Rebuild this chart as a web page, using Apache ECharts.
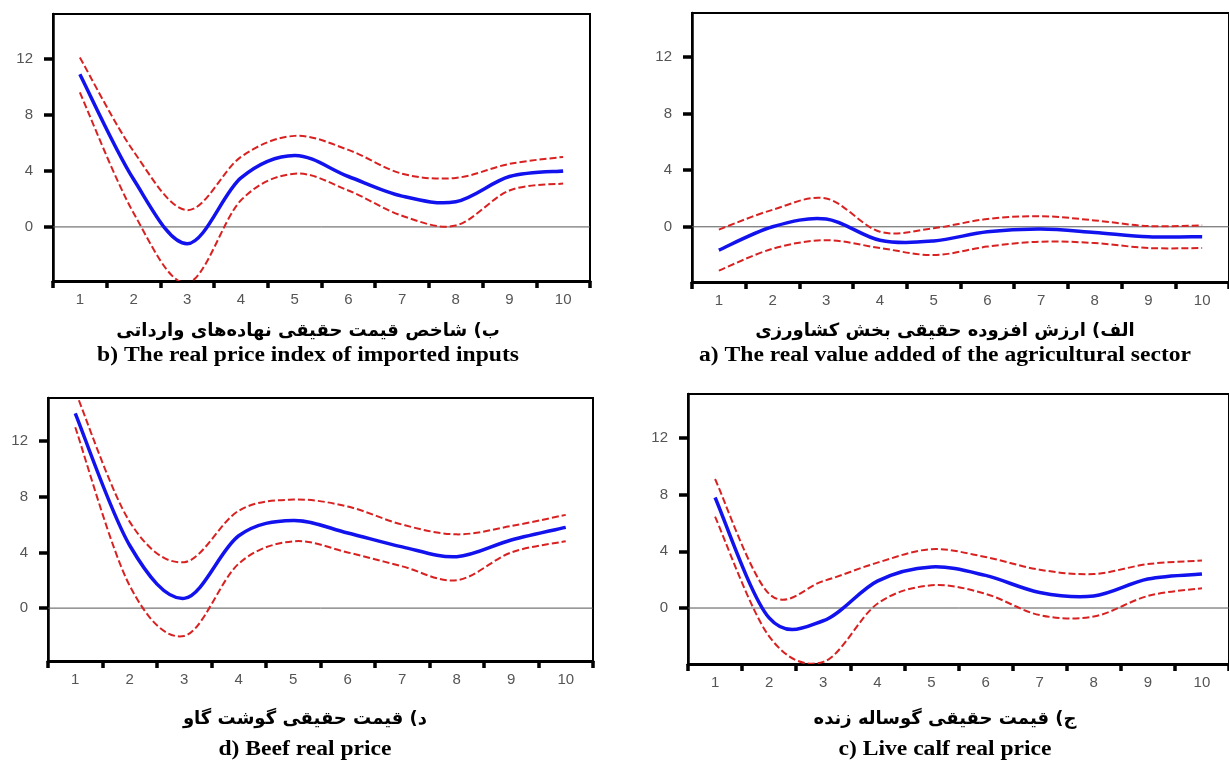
<!DOCTYPE html>
<html>
<head>
<meta charset="utf-8">
<script src="https://cdn.jsdelivr.net/npm/echarts@6/dist/echarts.min.js"></script>
<style>
html,body{margin:0;padding:0;background:#fff;}
#chart{width:1229px;height:765px;}
</style>
</head>
<body>
<div id="chart"></div>
<script>
// ---- data ----
const categories = ['1','2','3','4','5','6','7','8','9','10'];
const yTickValues = [0, 4, 8, 12];

// a) real value added of the agricultural sector
const aResp  = [-1.65, 0.0, 0.55, -0.95, -1.0, -0.35, -0.15, -0.4, -0.7, -0.7];
const aUpper = [-0.2, 1.2, 2.0, -0.35, -0.1, 0.55, 0.75, 0.45, 0.05, 0.1];
const aLower = [-3.1, -1.55, -0.95, -1.5, -2.0, -1.4, -1.05, -1.15, -1.5, -1.5];

// b) real price index of imported inputs
const bResp  = [10.9, 3.4, -1.2, 3.5, 5.1, 3.6, 2.2, 1.8, 3.6, 4.0];
const bUpper = [12.1, 5.4, 1.2, 5.0, 6.5, 5.5, 3.8, 3.5, 4.5, 5.0];
const bLower = [9.6, 1.0, -4.0, 1.9, 3.8, 2.6, 0.8, 0.1, 2.6, 3.1];

// c) live calf real price
const cResp  = [7.8, -0.7, -0.9, 1.9, 2.9, 2.3, 1.1, 0.85, 2.05, 2.4];
const cUpper = [9.1, 1.0, 1.9, 3.2, 4.15, 3.6, 2.7, 2.4, 3.1, 3.35];
const cLower = [6.45, -2.0, -3.8, 0.3, 1.6, 1.0, -0.5, -0.6, 0.85, 1.4];

// d) beef real price
const dResp  = [14.0, 4.5, 0.7, 5.2, 6.3, 5.4, 4.4, 3.7, 4.9, 5.8];
const dUpper = [15.6, 6.2, 3.3, 7.0, 7.8, 7.3, 6.0, 5.3, 5.9, 6.7];
const dLower = [13.0, 1.6, -2.0, 3.2, 4.8, 4.0, 3.0, 2.0, 4.0, 4.8];

const titlesFa = [
  'الف) ارزش افزوده حقیقی بخش کشاورزی',
  'ب) شاخص قیمت حقیقی نهاده‌های وارداتی',
  'ج) قیمت حقیقی گوساله زنده',
  'د) قیمت حقیقی گوشت گاو'
];
const titlesEn = [
  'a) The real value added of the agricultural sector',
  'b) The real price index of imported inputs',
  'c) Live calf real price',
  'd) Beef real price'
];

// ---- layout ----
const panels = [
  {resp: aResp, up: aUpper, lo: aLower, grid: {left: 692, top: 13, right: -3, bottom: 483}, min: -3.9, max: 15.1, tx: 945, tyFa: 331, tyEn: 356},
  {resp: bResp, up: bUpper, lo: bLower, grid: {left: 53, top: 14, right: 639, bottom: 484}, min: -3.86, max: 15.2, tx: 308, tyFa: 331, tyEn: 356},
  {resp: cResp, up: cUpper, lo: cLower, grid: {left: 688, top: 394, right: -4, bottom: 101}, min: -3.95, max: 15.1, tx: 945, tyFa: 719, tyEn: 750},
  {resp: dResp, up: dUpper, lo: dLower, grid: {left: 48, top: 398, right: 636, bottom: 104}, min: -3.8, max: 15.1, tx: 305, tyFa: 719, tyEn: 750}
];

// smooth curve (Catmull-Rom -> cubic Bezier) through the points placed by the axes
function curveSeries(axisIdx, values, lineStyle, z, withZeroLine) {
  return {
    type: 'custom', xAxisIndex: axisIdx, yAxisIndex: axisIdx, z: z, silent: true,
    data: values.map((v, k) => [k, v]),
    encode: {x: 0, y: 1},
    renderItem: function (params, api) {
      if (params.dataIndex !== 0) return null;
      const pts = values.map((v, k) => api.coord([k, v]));
      let d = 'M' + pts[0][0] + ',' + pts[0][1];
      const n = pts.length;
      for (let k = 0; k < n - 1; k++) {
        const p0 = pts[Math.max(k - 1, 0)], p1 = pts[k], p2 = pts[k + 1], p3 = pts[Math.min(k + 2, n - 1)];
        const c1x = p1[0] + (p2[0] - p0[0]) / 6, c1y = p1[1] + (p2[1] - p0[1]) / 6;
        const c2x = p2[0] - (p3[0] - p1[0]) / 6, c2y = p2[1] - (p3[1] - p1[1]) / 6;
        d += ' C' + c1x + ',' + c1y + ' ' + c2x + ',' + c2y + ' ' + p2[0] + ',' + p2[1];
      }
      const cs = params.coordSys;
      const clip = {type: 'rect', shape: {x: cs.x, y: cs.y, width: cs.width, height: cs.height}};
      const children = [];
      if (withZeroLine) {
        const y0 = api.coord([0, 0])[1];
        children.push({type: 'line', shape: {x1: cs.x, y1: y0, x2: cs.x + cs.width, y2: y0},
                       style: {stroke: '#555', lineWidth: 1}, z2: 0});
      }
      children.push({
        type: 'path', shape: {pathData: d}, clipPath: clip, z2: 1,
        style: Object.assign({fill: 'none'}, lineStyle)
      });
      return {type: 'group', children: children};
    }
  };
}

const grids = [], xAxes = [], yAxes = [], series = [], graphics = [];
panels.forEach((p, i) => {
  grids.push(Object.assign({show: true, borderColor: '#000', borderWidth: 2, backgroundColor: 'transparent'}, p.grid));
  xAxes.push({
    type: 'category', gridIndex: i, data: categories, boundaryGap: true,
    axisLine: {show: true, onZero: false, lineStyle: {color: '#000', width: 3}},
    axisTick: {show: true, length: 7, lineStyle: {color: '#000', width: 3.5}},
    axisLabel: {color: '#555', fontSize: 15, margin: 11, fontFamily: 'Liberation Sans'},
    splitLine: {show: false}
  });
  yAxes.push({
    type: 'value', gridIndex: i, min: p.min, max: p.max,
    axisLine: {show: true, lineStyle: {color: '#000', width: 2.5}},
    axisTick: {show: true, length: 9, customValues: yTickValues, lineStyle: {color: '#000', width: 3.5}},
    axisLabel: {color: '#555', fontSize: 15, margin: 20, fontFamily: 'Liberation Sans', customValues: yTickValues},
    splitLine: {show: false}
  });
  const dashStyle = {stroke: '#d82222', lineWidth: 2, lineDash: [7, 3]};
  series.push(curveSeries(i, p.up, dashStyle, 3, true));
  series.push(curveSeries(i, p.lo, dashStyle, 3, false));
  series.push(curveSeries(i, p.resp, {stroke: '#1212ee', lineWidth: 3.5}, 4, false));
  graphics.push({
    type: 'text', x: p.tx, y: p.tyFa, silent: true,
    style: {text: titlesFa[i], font: 'bold 18px "DejaVu Sans"', fill: '#000',
            textAlign: 'center', textVerticalAlign: 'middle', align: 'center', verticalAlign: 'middle'}
  });
  graphics.push({
    type: 'text', x: p.tx, y: p.tyEn, silent: true, scaleX: 1.15,
    style: {text: titlesEn[i], font: 'bold 20.5px "Liberation Serif"', fill: '#000',
            textAlign: 'center', textVerticalAlign: 'middle', align: 'center', verticalAlign: 'middle'}
  });
});

const chart = echarts.init(document.getElementById('chart'), null, {renderer: 'canvas'});
chart.setOption({
  animation: false,
  backgroundColor: '#fff',
  grid: grids,
  xAxis: xAxes,
  yAxis: yAxes,
  series: series,
  graphic: graphics
});
</script>
</body>
</html>
